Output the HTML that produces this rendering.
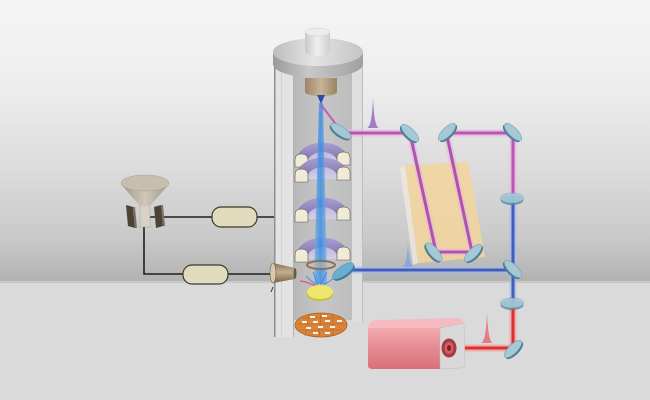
<!DOCTYPE html>
<html><head><meta charset="utf-8"><style>
html,body{margin:0;padding:0;background:#dadada;}
svg{display:block;}
</style></head><body>
<svg width="650" height="400" viewBox="0 0 650 400" xmlns="http://www.w3.org/2000/svg">
<defs>
<linearGradient id="bg" x1="0" y1="0" x2="0" y2="281" gradientUnits="userSpaceOnUse">
<stop offset="0" stop-color="#f4f4f4"/><stop offset="0.25" stop-color="#f0f0f0"/>
<stop offset="0.6" stop-color="#dcdcdc"/><stop offset="0.85" stop-color="#c9c9c9"/>
<stop offset="1" stop-color="#b2b2b2"/></linearGradient>
<linearGradient id="capTop" x1="0" y1="0" x2="1" y2="0">
<stop offset="0" stop-color="#bdbdbd"/><stop offset="0.45" stop-color="#e4e4e4"/><stop offset="1" stop-color="#c4c4c4"/></linearGradient>
<linearGradient id="capSide" x1="0" y1="0" x2="1" y2="0">
<stop offset="0" stop-color="#9a9a9a"/><stop offset="0.4" stop-color="#c8c8c8"/><stop offset="1" stop-color="#a0a0a0"/></linearGradient>
<linearGradient id="knob" x1="0" y1="0" x2="1" y2="0">
<stop offset="0" stop-color="#c8c8c8"/><stop offset="0.5" stop-color="#f0f0f0"/><stop offset="1" stop-color="#cfcfcf"/></linearGradient>
<linearGradient id="inner" x1="0" y1="0" x2="1" y2="0">
<stop offset="0" stop-color="#b8b8b8"/><stop offset="0.5" stop-color="#c6c6c6"/><stop offset="1" stop-color="#bdbdbd"/></linearGradient>
<linearGradient id="tor" x1="0" y1="0" x2="0" y2="1">
<stop offset="0" stop-color="#a89ed2"/><stop offset="1" stop-color="#7a70a8"/></linearGradient>
<linearGradient id="torIn" x1="0" y1="0" x2="0" y2="1">
<stop offset="0" stop-color="#b0a8d4"/><stop offset="1" stop-color="#d4cfe6"/></linearGradient>
<linearGradient id="src" x1="0" y1="0" x2="1" y2="0">
<stop offset="0" stop-color="#9c8568"/><stop offset="0.5" stop-color="#c8b396"/><stop offset="1" stop-color="#9a8466"/></linearGradient>
<linearGradient id="funnel" x1="0" y1="0" x2="1" y2="0">
<stop offset="0" stop-color="#9e9686"/><stop offset="0.5" stop-color="#cfc8b8"/><stop offset="1" stop-color="#a0988a"/></linearGradient>
<linearGradient id="cone" x1="0" y1="0" x2="0" y2="1">
<stop offset="0" stop-color="#8a7458"/><stop offset="0.45" stop-color="#c4ae90"/><stop offset="1" stop-color="#7a6448"/></linearGradient>
<linearGradient id="laserF" x1="0" y1="0" x2="0" y2="1">
<stop offset="0" stop-color="#f2aaae"/><stop offset="0.5" stop-color="#e58a90"/><stop offset="1" stop-color="#d87078"/></linearGradient>
<linearGradient id="beamV" x1="0" y1="0" x2="1" y2="0">
<stop offset="0" stop-color="#6ab2f2"/><stop offset="0.5" stop-color="#3a88dc"/><stop offset="1" stop-color="#6ab2f2"/></linearGradient>
</defs>

<rect x="0" y="0" width="650" height="281" fill="url(#bg)"/>
<rect x="0" y="281" width="650" height="2" fill="#c8c8c8"/>
<rect x="0" y="283" width="650" height="117" fill="#dadada"/>

<!-- wiring -->
<g stroke="#1e1e1e" stroke-width="1.6" fill="none">
<line x1="150" y1="217" x2="276" y2="217"/>
<polyline points="144,226 144,274 274,274"/>
</g>
<rect x="212" y="207" width="45" height="20" rx="9" fill="#e2dabc" stroke="#3a3a2a" stroke-width="1.2"/>
<rect x="183" y="265" width="45" height="19" rx="9" fill="#e2dabc" stroke="#3a3a2a" stroke-width="1.2"/>

<!-- funnel -->
<rect x="140" y="203" width="10" height="24" fill="#d6d2c6" stroke="#a8a294" stroke-width="0.5"/>
<path d="M121,184 L140,206 L150,206 L169,184 Z" fill="url(#funnel)"/>
<ellipse cx="145" cy="183" rx="24" ry="8" fill="#c6bfae" stroke="#a8a090" stroke-width="0.5"/>
<polygon points="126,205 133,207 135,228 128,226" fill="#4a4336"/>
<polygon points="133,207 135,207 137,228 135,228" fill="#7a7262"/>
<polygon points="154,207 161,205 163,226 156,228" fill="#4a4336"/>
<polygon points="161,205 163,205 165,226 163,226" fill="#7a7262"/>

<!-- column -->
<rect x="274" y="60" width="20" height="277" fill="#e3e3e3"/>
<rect x="274" y="60" width="1.5" height="277" fill="#8e8e8e"/>
<rect x="281" y="60" width="1" height="277" fill="#d2d2d2"/>
<rect x="294" y="70" width="58" height="250" fill="url(#inner)"/>
<rect x="293" y="70" width="1" height="267" fill="#b0b0b0"/>
<rect x="352" y="60" width="11" height="262" fill="#dedede"/>
<rect x="362" y="60" width="1" height="262" fill="#bdbdbd"/>

<!-- cap -->
<path d="M273,52 L273,64 A45,14 0 0 0 363,64 L363,52 Z" fill="url(#capSide)"/>
<ellipse cx="318" cy="52" rx="45" ry="14" fill="url(#capTop)"/>
<path d="M305,32 L305,52 A12.5,4 0 0 0 330,52 L330,32 Z" fill="url(#knob)"/>
<ellipse cx="317.5" cy="32" rx="12.5" ry="4" fill="#ececec" stroke="#cfcfcf" stroke-width="0.5"/>

<!-- source -->
<path d="M305,78 L305,92 A16,4 0 0 0 337,92 L337,78 Z" fill="url(#src)"/>
<polygon points="317,95 325,95 321,104" fill="#2a4cb0"/>

<!-- tori -->
<g>
<path d="M295,164 A27,21 0 0 1 350,164 Z" fill="url(#torIn)"/>
<path d="M295,164 A27,21 0 0 1 350,164 L338,164 A15.5,12 0 0 0 307,164 Z" fill="url(#tor)"/>
<path d="M295,167 L295,160 Q295,154 301.5,154 Q308,154 308,160 L308,167 Z" fill="#f1ebd5" stroke="#555" stroke-width="0.6"/>
<path d="M337,165 L337,158 Q337,152 343.5,152 Q350,152 350,158 L350,165 Z" fill="#f1ebd5" stroke="#555" stroke-width="0.6"/>
</g>
<g>
<path d="M295,179 A27,21 0 0 1 350,179 Z" fill="url(#torIn)"/>
<path d="M295,179 A27,21 0 0 1 350,179 L338,179 A15.5,12 0 0 0 307,179 Z" fill="url(#tor)"/>
<path d="M295,182 L295,175 Q295,169 301.5,169 Q308,169 308,175 L308,182 Z" fill="#f1ebd5" stroke="#555" stroke-width="0.6"/>
<path d="M337,180 L337,173 Q337,167 343.5,167 Q350,167 350,173 L350,180 Z" fill="#f1ebd5" stroke="#555" stroke-width="0.6"/>
</g>
<g>
<path d="M295,219 A27,21 0 0 1 350,219 Z" fill="url(#torIn)"/>
<path d="M295,219 A27,21 0 0 1 350,219 L338,219 A15.5,12 0 0 0 307,219 Z" fill="url(#tor)"/>
<path d="M295,222 L295,215 Q295,209 301.5,209 Q308,209 308,215 L308,222 Z" fill="#f1ebd5" stroke="#555" stroke-width="0.6"/>
<path d="M337,220 L337,213 Q337,207 343.5,207 Q350,207 350,213 L350,220 Z" fill="#f1ebd5" stroke="#555" stroke-width="0.6"/>
</g>
<g>
<path d="M295,259 A27,21 0 0 1 350,259 Z" fill="url(#torIn)"/>
<path d="M295,259 A27,21 0 0 1 350,259 L338,259 A15.5,12 0 0 0 307,259 Z" fill="url(#tor)"/>
<path d="M295,262 L295,255 Q295,249 301.5,249 Q308,249 308,255 L308,262 Z" fill="#f1ebd5" stroke="#555" stroke-width="0.6"/>
<path d="M337,260 L337,253 Q337,247 343.5,247 Q350,247 350,253 L350,260 Z" fill="#f1ebd5" stroke="#555" stroke-width="0.6"/>
</g>

<!-- electron beam -->
<polygon points="319,103 323,103 327,284 314,284" fill="url(#beamV)" opacity="0.8"/>

<!-- aperture -->
<ellipse cx="321" cy="265" rx="14" ry="4" fill="#c8bca8" fill-opacity="0.5" stroke="#8a7256" stroke-width="2"/>

<!-- sample & fan -->
<g stroke="#3a7ad8" stroke-width="0.9" fill="none" opacity="0.8">
<line x1="319" y1="288" x2="306" y2="276"/>
<line x1="319" y1="288" x2="313" y2="272"/>
<line x1="319" y1="288" x2="327" y2="272"/>
<line x1="319" y1="288" x2="336" y2="277"/>
</g>
<path d="M318,288 Q310,282 300,281" stroke="#e05aa0" stroke-width="1.5" fill="none"/>
<ellipse cx="320" cy="294" rx="13" ry="7" fill="#c8c038"/>
<ellipse cx="320" cy="292" rx="13" ry="7" fill="#ece66a"/>

<!-- wafer -->
<ellipse cx="321" cy="325" rx="26" ry="12" fill="#d8843a" stroke="#b05e1c" stroke-width="0.8"/>
<g stroke="#b86420" stroke-width="0.6">
<line x1="302" y1="318" x2="340" y2="318"/><line x1="297" y1="324" x2="346" y2="324"/><line x1="299" y1="330" x2="343" y2="330"/>
<line x1="309" y1="314" x2="305" y2="336"/><line x1="321" y1="313" x2="319" y2="337"/><line x1="333" y1="314" x2="333" y2="336"/>
</g>
<g fill="#fbf4ea">
<rect x="310" y="316" width="5" height="2"/><rect x="322" y="315" width="5" height="2"/>
<rect x="302" y="321" width="5" height="2"/><rect x="313" y="321" width="5" height="2"/><rect x="325" y="320" width="5" height="2"/><rect x="337" y="320" width="5" height="2"/>
<rect x="306" y="327" width="5" height="2"/><rect x="318" y="326" width="5" height="2"/><rect x="330" y="326" width="5" height="2"/>
<rect x="313" y="332" width="5" height="2"/><rect x="325" y="332" width="5" height="2"/>
</g>

<!-- detector cone -->
<path d="M273,263 L295,268 L295,279 L273,283 Z" fill="url(#cone)"/>
<ellipse cx="273" cy="273" rx="3" ry="10" fill="#d8c8b0" stroke="#6a5a44" stroke-width="0.6"/>
<ellipse cx="295" cy="273.5" rx="1.5" ry="5.5" fill="#6a5a44"/>
<line x1="273" y1="287" x2="271" y2="292" stroke="#333" stroke-width="1"/>

<!-- yellow plate -->
<polygon points="400,168 405,165 418,263 413,265" fill="#ece6da" opacity="0.9"/>
<polygon points="405,165 468,162 485,257 418,263" fill="#f3d59c" opacity="0.88"/>

<!-- beams -->
<g fill="none" stroke-linecap="round" stroke-linejoin="round">
<polyline points="322,106 338,127" stroke="#c050b8" stroke-width="2" opacity="0.9"/>
<polyline points="341,133 410,133" stroke="#e2b8e0" stroke-width="7" opacity="0.7"/>
<polyline points="341,133 410,133" stroke="#b848b4" stroke-width="3" opacity="0.9"/>
<polyline points="411,138 436,252 472,252 447,136" stroke="#e2b8e0" stroke-width="7" opacity="0.55"/>
<polyline points="411,138 436,252 472,252 447,136" stroke="#a83ca8" stroke-width="3" opacity="0.85"/>
<polyline points="447,133 513,133 513,198" stroke="#e2b8e0" stroke-width="7" opacity="0.7"/>
<polyline points="447,133 513,133 513,198" stroke="#b848b4" stroke-width="3" opacity="0.9"/>
<polyline points="513,198 513,303" stroke="#a8bce8" stroke-width="7" opacity="0.7"/>
<polyline points="513,198 513,303" stroke="#3552b8" stroke-width="3" opacity="0.9"/>
<polyline points="513,270 345,270" stroke="#a8bce8" stroke-width="7" opacity="0.7"/>
<polyline points="513,270 345,270" stroke="#3552b8" stroke-width="3" opacity="0.9"/>
<polyline points="513,303 513,348 450,348" stroke="#f0a0a0" stroke-width="7" opacity="0.7"/>
<polyline points="513,303 513,348 450,348" stroke="#e02828" stroke-width="3" opacity="0.95"/>
</g>

<!-- pulses -->
<path d="M367,128 Q372,127 373,97 Q374,127 379,128 Z" fill="#a27ec8"/>
<path d="M402,267 Q407,266 408,242 Q409,266 414,267 Z" fill="#8aa6e0"/>
<path d="M481,343 Q486,342 487,312 Q488,342 493,343 Z" fill="#e87c84"/>

<!-- mirrors -->
<g>
<g transform="translate(341,131) rotate(35)"><ellipse cx="0" cy="2" rx="12" ry="4.5" fill="#4d7d8e"/><ellipse cx="0" cy="0" rx="12" ry="4.5" fill="#a4c8d6" stroke="#6a98a8" stroke-width="0.5"/></g>
<g transform="translate(410,133) rotate(45)"><ellipse cx="0" cy="2" rx="11.5" ry="4.5" fill="#4d7d8e"/><ellipse cx="0" cy="0" rx="11.5" ry="4.5" fill="#a4c8d6" stroke="#6a98a8" stroke-width="0.5"/></g>
<g transform="translate(447,132) rotate(-45)"><ellipse cx="0" cy="2" rx="11.5" ry="4.5" fill="#4d7d8e"/><ellipse cx="0" cy="0" rx="11.5" ry="4.5" fill="#a4c8d6" stroke="#6a98a8" stroke-width="0.5"/></g>
<g transform="translate(513,132) rotate(45)"><ellipse cx="0" cy="2" rx="11.5" ry="4.5" fill="#4d7d8e"/><ellipse cx="0" cy="0" rx="11.5" ry="4.5" fill="#a4c8d6" stroke="#6a98a8" stroke-width="0.5"/></g>
<g transform="translate(434,252) rotate(50)"><ellipse cx="0" cy="2" rx="11.5" ry="4.5" fill="#4d7d8e"/><ellipse cx="0" cy="0" rx="11.5" ry="4.5" fill="#a4c8d6" stroke="#6a98a8" stroke-width="0.5"/></g>
<g transform="translate(473,253) rotate(-45)"><ellipse cx="0" cy="2" rx="11.5" ry="4.5" fill="#4d7d8e"/><ellipse cx="0" cy="0" rx="11.5" ry="4.5" fill="#a4c8d6" stroke="#6a98a8" stroke-width="0.5"/></g>
<g transform="translate(513,269) rotate(45)"><ellipse cx="0" cy="2" rx="11.5" ry="4.5" fill="#4d7d8e"/><ellipse cx="0" cy="0" rx="11.5" ry="4.5" fill="#a4c8d6" stroke="#6a98a8" stroke-width="0.5"/></g>
<g transform="translate(513,349) rotate(-45)"><ellipse cx="0" cy="2" rx="11.5" ry="4.5" fill="#4d7d8e"/><ellipse cx="0" cy="0" rx="11.5" ry="4.5" fill="#a4c8d6" stroke="#6a98a8" stroke-width="0.5"/></g>
<g transform="translate(343,271) rotate(-35)"><ellipse cx="0" cy="2" rx="12.5" ry="4.8" fill="#3f7a96"/><ellipse cx="0" cy="0" rx="12.5" ry="4.8" fill="#6aaed4" stroke="#4a88a8" stroke-width="0.5"/></g>
<ellipse cx="512" cy="200" rx="11.5" ry="5" fill="#5a8a9c" opacity="0.8"/>
<ellipse cx="512" cy="198" rx="11.5" ry="5" fill="#a8cada" opacity="0.85" stroke="#6a98a8" stroke-width="0.5"/>
<ellipse cx="512" cy="305" rx="11.5" ry="5" fill="#5a8a9c" opacity="0.8"/>
<ellipse cx="512" cy="303" rx="11.5" ry="5" fill="#a8cada" opacity="0.85" stroke="#6a98a8" stroke-width="0.5"/>
</g>

<!-- laser -->
<path d="M368,326 Q369,321 376,320 L456,318 Q463,318 464,323 L440,328 L368,328 Z" fill="#f4bcc0"/>
<path d="M368,328 L440,328 L440,369 L372,369 Q368,369 368,365 Z" fill="url(#laserF)"/>
<path d="M440,328 L464,323 L465,364 Q465,368 461,368 L440,369 Z" fill="#d9d9d9" stroke="#bdbdbd" stroke-width="0.5"/>
<ellipse cx="449" cy="348" rx="7.5" ry="9.5" fill="#a83a40"/>
<ellipse cx="449" cy="348" rx="4.5" ry="6" fill="#d06068"/>
<ellipse cx="449" cy="348" rx="2" ry="3" fill="#7a2024"/>
</svg>
</body></html>
